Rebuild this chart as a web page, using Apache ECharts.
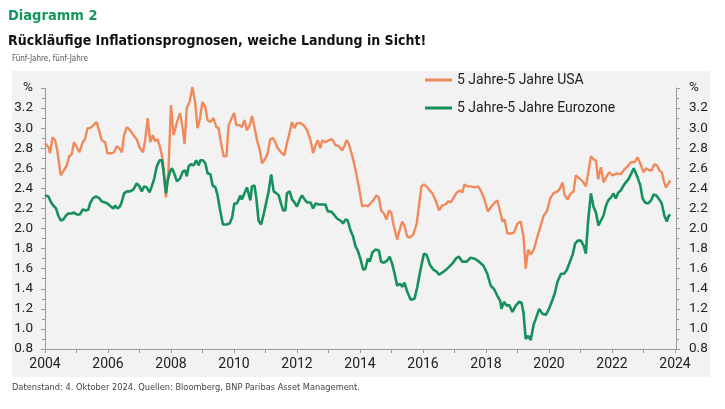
<!DOCTYPE html>
<html>
<head>
<meta charset="utf-8">
<script src="https://cdn.jsdelivr.net/npm/echarts@6/dist/echarts.min.js"></script>
<style>
html,body{margin:0;padding:0;background:#fff;}
#c{width:725px;height:409px;}
</style>
</head>
<body>
<div id="c"></div>
<script>
// ---- Data (decimal year, percent) ----
const usaYears = [2004.00,2004.11,2004.16,2004.24,2004.32,2004.39,2004.50,2004.60,2004.69,2004.77,2004.85,2004.92,2005.01,2005.09,2005.20,2005.27,2005.35,2005.43,2005.54,2005.64,2005.73,2005.80,2005.91,2005.98,2006.12,2006.19,2006.28,2006.36,2006.44,2006.51,2006.60,2006.70,2006.81,2006.91,2007.00,2007.11,2007.18,2007.26,2007.34,2007.42,2007.50,2007.57,2007.66,2007.74,2007.84,2007.92,2008.00,2008.08,2008.19,2008.29,2008.38,2008.43,2008.50,2008.59,2008.68,2008.77,2008.84,2008.91,2009.00,2009.09,2009.16,2009.25,2009.35,2009.44,2009.51,2009.59,2009.67,2009.76,2009.83,2009.94,2010.01,2010.07,2010.18,2010.25,2010.33,2010.41,2010.50,2010.57,2010.65,2010.73,2010.82,2010.89,2011.00,2011.07,2011.15,2011.24,2011.31,2011.39,2011.49,2011.60,2011.68,2011.77,2011.84,2011.92,2012.00,2012.11,2012.21,2012.32,2012.43,2012.51,2012.59,2012.66,2012.74,2012.80,2012.90,2013.01,2013.12,2013.22,2013.33,2013.43,2013.49,2013.57,2013.64,2013.75,2013.86,2013.96,2014.07,2014.17,2014.25,2014.33,2014.42,2014.52,2014.60,2014.67,2014.76,2014.84,2014.92,2014.99,2015.07,2015.18,2015.27,2015.34,2015.41,2015.50,2015.58,2015.69,2015.80,2015.87,2015.95,2016.03,2016.11,2016.21,2016.30,2016.40,2016.51,2016.61,2016.72,2016.79,2016.88,2016.96,2017.07,2017.17,2017.25,2017.32,2017.41,2017.51,2017.64,2017.75,2017.83,2017.94,2018.06,2018.17,2018.28,2018.36,2018.45,2018.52,2018.59,2018.68,2018.79,2018.89,2019.00,2019.10,2019.19,2019.26,2019.34,2019.42,2019.53,2019.63,2019.74,2019.83,2019.93,2020.04,2020.14,2020.27,2020.35,2020.43,2020.50,2020.59,2020.69,2020.78,2020.85,2020.96,2021.07,2021.17,2021.24,2021.33,2021.41,2021.49,2021.56,2021.65,2021.73,2021.81,2021.91,2022.02,2022.16,2022.28,2022.39,2022.50,2022.60,2022.71,2022.81,2022.92,2023.00,2023.08,2023.18,2023.26,2023.34,2023.43,2023.50,2023.58,2023.64,2023.71,2023.77,2023.85];
const usaValues = [2.85,2.81,2.75,2.91,2.88,2.78,2.53,2.58,2.63,2.72,2.74,2.86,2.81,2.76,2.86,2.89,3.00,3.00,3.03,3.06,2.96,2.88,2.86,2.75,2.75,2.76,2.82,2.80,2.76,2.93,3.01,2.98,2.93,2.89,2.81,2.76,2.88,3.10,2.86,2.93,2.87,2.89,2.80,2.68,2.31,2.58,3.23,2.93,3.06,3.15,2.98,2.84,3.20,3.26,3.41,3.25,3.00,3.08,3.26,3.21,3.08,3.06,3.10,3.01,3.00,2.85,2.72,2.72,3.03,3.11,3.15,3.03,3.03,3.01,3.08,2.98,3.03,3.12,3.01,2.88,2.78,2.65,2.70,2.75,2.89,2.90,2.86,2.80,2.76,2.73,2.85,2.96,3.06,3.00,3.05,3.05,3.03,2.98,2.88,2.75,2.83,2.88,2.80,2.88,2.86,2.88,2.89,2.83,2.82,2.78,2.81,2.88,2.85,2.73,2.58,2.42,2.22,2.23,2.22,2.25,2.28,2.33,2.31,2.18,2.15,2.09,2.18,2.16,2.03,1.89,2.00,2.07,2.03,1.92,1.91,1.94,2.05,2.22,2.42,2.44,2.42,2.38,2.35,2.28,2.18,2.23,2.24,2.27,2.26,2.30,2.36,2.38,2.36,2.44,2.42,2.42,2.41,2.42,2.38,2.30,2.17,2.22,2.26,2.28,2.17,2.07,2.09,1.95,1.95,1.96,2.05,2.07,1.92,1.60,1.79,1.74,1.80,1.92,2.03,2.13,2.17,2.30,2.35,2.37,2.40,2.46,2.33,2.29,2.35,2.37,2.53,2.50,2.47,2.42,2.54,2.72,2.69,2.68,2.49,2.61,2.46,2.51,2.56,2.53,2.55,2.54,2.59,2.62,2.66,2.66,2.71,2.63,2.56,2.60,2.58,2.58,2.64,2.63,2.58,2.56,2.48,2.41,2.40,2.48];

const ezYears = [2004.00,2004.11,2004.18,2004.26,2004.35,2004.42,2004.50,2004.58,2004.67,2004.74,2004.85,2004.92,2005.01,2005.11,2005.20,2005.30,2005.38,2005.43,2005.52,2005.62,2005.73,2005.80,2005.91,2005.98,2006.09,2006.17,2006.23,2006.30,2006.38,2006.44,2006.51,2006.60,2006.70,2006.81,2006.91,2007.00,2007.07,2007.15,2007.23,2007.32,2007.39,2007.47,2007.55,2007.64,2007.71,2007.76,2007.84,2007.89,2007.97,2008.03,2008.10,2008.19,2008.29,2008.38,2008.45,2008.50,2008.56,2008.63,2008.72,2008.80,2008.88,2008.93,2009.01,2009.09,2009.16,2009.25,2009.32,2009.41,2009.48,2009.56,2009.65,2009.76,2009.86,2009.94,2010.01,2010.09,2010.15,2010.20,2010.25,2010.33,2010.41,2010.47,2010.52,2010.57,2010.65,2010.71,2010.78,2010.86,2010.94,2011.03,2011.10,2011.18,2011.26,2011.35,2011.42,2011.49,2011.56,2011.63,2011.68,2011.77,2011.84,2011.92,2012.00,2012.09,2012.16,2012.24,2012.32,2012.43,2012.51,2012.59,2012.69,2012.80,2012.90,2012.98,2013.08,2013.17,2013.27,2013.38,2013.46,2013.54,2013.61,2013.70,2013.78,2013.86,2013.93,2014.02,2014.10,2014.17,2014.25,2014.31,2014.39,2014.49,2014.60,2014.67,2014.76,2014.86,2014.94,2015.02,2015.10,2015.18,2015.27,2015.34,2015.41,2015.50,2015.61,2015.73,2015.82,2015.92,2016.03,2016.11,2016.22,2016.33,2016.43,2016.51,2016.61,2016.77,2016.93,2017.04,2017.14,2017.25,2017.39,2017.51,2017.64,2017.78,2017.92,2018.04,2018.15,2018.25,2018.36,2018.45,2018.49,2018.57,2018.66,2018.73,2018.84,2018.94,2019.05,2019.13,2019.19,2019.26,2019.34,2019.42,2019.51,2019.58,2019.69,2019.79,2019.90,2020.00,2020.11,2020.18,2020.27,2020.38,2020.48,2020.57,2020.64,2020.75,2020.83,2020.91,2021.01,2021.10,2021.17,2021.24,2021.33,2021.41,2021.49,2021.57,2021.65,2021.73,2021.81,2021.88,2021.97,2022.05,2022.12,2022.20,2022.28,2022.37,2022.44,2022.52,2022.60,2022.69,2022.73,2022.81,2022.90,2022.97,2023.05,2023.15,2023.24,2023.32,2023.41,2023.50,2023.58,2023.66,2023.74,2023.79,2023.85];
const ezValues = [2.33,2.32,2.27,2.23,2.20,2.13,2.08,2.09,2.13,2.15,2.15,2.16,2.14,2.14,2.19,2.18,2.19,2.25,2.30,2.32,2.30,2.27,2.26,2.25,2.22,2.20,2.23,2.20,2.22,2.27,2.35,2.37,2.37,2.39,2.45,2.42,2.37,2.42,2.41,2.36,2.42,2.50,2.62,2.68,2.68,2.58,2.35,2.47,2.57,2.60,2.55,2.47,2.50,2.57,2.58,2.52,2.62,2.64,2.63,2.68,2.63,2.68,2.68,2.65,2.55,2.54,2.43,2.41,2.33,2.18,2.04,2.04,2.05,2.11,2.25,2.25,2.29,2.33,2.29,2.35,2.41,2.41,2.28,2.42,2.43,2.30,2.08,2.04,2.14,2.27,2.37,2.54,2.37,2.35,2.33,2.25,2.18,2.18,2.35,2.37,2.29,2.26,2.22,2.29,2.33,2.29,2.26,2.26,2.20,2.25,2.24,2.24,2.24,2.17,2.17,2.14,2.10,2.08,2.05,2.09,2.08,1.98,1.92,1.82,1.78,1.69,1.59,1.60,1.70,1.67,1.76,1.79,1.78,1.67,1.66,1.68,1.72,1.65,1.55,1.43,1.45,1.42,1.46,1.37,1.29,1.30,1.42,1.59,1.75,1.74,1.64,1.59,1.57,1.54,1.56,1.60,1.65,1.70,1.72,1.67,1.67,1.71,1.70,1.67,1.63,1.55,1.43,1.40,1.33,1.28,1.20,1.27,1.23,1.24,1.17,1.23,1.27,1.26,1.16,0.90,0.93,0.89,1.04,1.10,1.20,1.15,1.14,1.20,1.29,1.35,1.47,1.55,1.55,1.59,1.65,1.74,1.85,1.88,1.88,1.83,1.75,2.07,2.35,2.22,2.16,2.03,2.08,2.13,2.23,2.28,2.31,2.35,2.30,2.36,2.38,2.43,2.46,2.49,2.54,2.60,2.57,2.51,2.43,2.30,2.26,2.25,2.28,2.34,2.33,2.29,2.25,2.13,2.07,2.12,2.14];

const seriesNames = ['5 Jahre-5 Jahre USA', '5 Jahre-5 Jahre Eurozone'];
const xTickYears = [2004, 2024];
const yRange = [0.8, 3.4];

const pair = (xs, ys) => xs.map((x, i) => [x, ys[i]]);

const narrow = "'Liberation Sans Narrow','DejaVu Sans Condensed','Roboto Condensed',Roboto,sans-serif";
const regular = "Roboto,'Liberation Sans',sans-serif";
const ORANGE = '#F08A5B';
const GREEN = '#16905C';

const chart = echarts.init(document.getElementById('c'), null, {renderer: 'canvas'});

const yAxisBase = {
  type: 'value', min: yRange[0], max: yRange[1], interval: 0.2,
  splitLine: {show: false},
  axisLine: {show: true, lineStyle: {color: '#9a9a9a', width: 1}},
  axisTick: {show: true, length: 4, lineStyle: {color: '#9a9a9a'}},
  minorTick: {show: true, splitNumber: 2, length: 3, lineStyle: {color: '#9a9a9a'}},
  axisLabel: {
    color: '#222', fontFamily: regular, fontSize: 13.5,
    formatter: v => (v > 3.35 ? '%' : v.toFixed(1))
  }
};

chart.setOption({
  backgroundColor: '#ffffff',
  animation: false,
  graphic: [
    {type: 'rect', shape: {x: 12, y: 71, width: 698, height: 306}, style: {fill: '#f2f2f2'}, z: -10, silent: true}
  ],
  title: [
    {text: 'Diagramm 2', left: 3, top: 4, textStyle: {color: '#13975F', fontFamily: narrow, fontWeight: 'bold', fontSize: 14.5}},
    {text: 'Rückläufige Inflationsprognosen, weiche Landung in Sicht!', left: 3, top: 29, textStyle: {color: '#111', fontFamily: narrow, fontWeight: 'bold', fontSize: 14}},
    {text: 'Fünf-Jahre, fünf-Jahre', left: 7, top: 50, textStyle: {color: '#555', fontFamily: narrow, fontWeight: 'normal', fontSize: 8}},
    {text: 'Datenstand: 4. Oktober 2024. Quellen: Bloomberg, BNP Paribas Asset Management.', left: 7, top: 378, textStyle: {color: '#444', fontFamily: narrow, fontWeight: 'normal', fontSize: 9.2}}
  ],
  legend: {
    orient: 'vertical', left: 420, top: 68, itemGap: 14,
    itemWidth: 27, itemHeight: 3, icon: 'rect',
    textStyle: {color: '#222', fontFamily: regular, fontSize: 14},
    data: seriesNames
  },
  grid: {left: 45, right: 50, top: 88, bottom: 60, containLabel: false},
  xAxis: {
    type: 'value', min: xTickYears[0], max: xTickYears[1], interval: 1,
    splitLine: {show: false},
    axisLine: {show: true, onZero: false, lineStyle: {color: '#9a9a9a'}},
    axisTick: {show: true, length: 4, lineStyle: {color: '#9a9a9a'}},
    axisLabel: {
      color: '#222', fontFamily: regular, fontSize: 14, margin: 8,
      formatter: v => (v % 2 === 0 ? String(v) : '')
    }
  },
  yAxis: [
    Object.assign({}, yAxisBase, {position: 'left', axisLabel: Object.assign({}, yAxisBase.axisLabel, {margin: 12})}),
    Object.assign({}, yAxisBase, {position: 'right', offset: 1, axisLabel: Object.assign({}, yAxisBase.axisLabel, {margin: 13})})
  ],
  series: [
    {name: seriesNames[0], type: 'line', data: pair(usaYears, usaValues), showSymbol: false, symbol: 'none',
     lineStyle: {color: ORANGE, width: 2.4}, itemStyle: {color: ORANGE}, z: 3},
    {name: seriesNames[1], type: 'line', data: pair(ezYears, ezValues), showSymbol: false, symbol: 'none',
     lineStyle: {color: GREEN, width: 2.6}, itemStyle: {color: GREEN}, z: 4}
  ]
});
</script>
</body>
</html>
